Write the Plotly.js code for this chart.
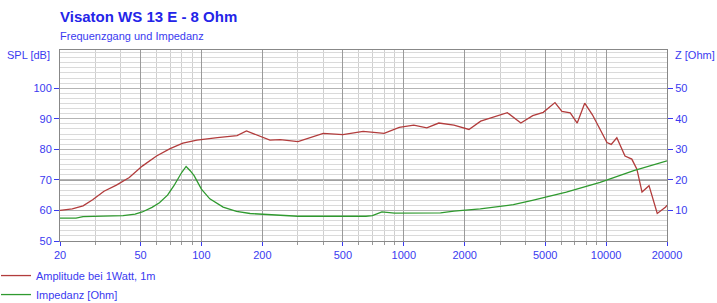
<!DOCTYPE html>
<html>
<head>
<meta charset="utf-8">
<script src="https://cdn.plot.ly/plotly-3.0.1.min.js"></script>
<style>html,body{margin:0;padding:0;background:#fff;}#chart{width:717px;height:303px;}</style>
</head>
<body>
<div id="chart"></div>
<script>
// ---- data ----
const splFreq = [20, 23, 26, 29, 33, 38, 44, 51, 60, 70, 81, 95, 120, 150, 167, 195, 218, 245, 300, 400, 500, 630, 800, 950, 1120, 1300, 1490, 1770, 2100, 2400, 2900, 3250, 3790, 4340, 4890, 5590, 6050, 6650, 7200, 7840, 8560, 9340, 10100, 10600, 11300, 12400, 13400, 14200, 15050, 16300, 17900, 19700, 20000];
const splDb   = [60, 60.5, 61.5, 63.5, 66.3, 68.3, 70.8, 74.5, 77.8, 80.2, 82, 83, 83.8, 84.5, 86, 84.3, 83, 83.2, 82.5, 85.2, 84.8, 85.9, 85.2, 87.2, 87.9, 87, 88.6, 87.9, 86.5, 89.2, 90.8, 92, 88.6, 91, 92.1, 95.3, 92.4, 91.9, 88.6, 95.1, 91.3, 86.5, 82.2, 81.6, 83.8, 77.8, 76.8, 73.5, 66, 68.1, 59, 61.1, 61.7];

const impFreq = [20, 24, 26, 41, 47, 51, 57, 62, 68, 73, 80, 84, 88, 92, 100, 110, 128, 149, 174, 254, 300, 650, 700, 780, 900, 1520, 1770, 2390, 3480, 4320, 6360, 9340, 13700, 20000];
const impOhm  = [7.5, 7.5, 8.0, 8.3, 8.8, 9.5, 11, 12.5, 15, 18, 22.5, 24.4, 23, 21.4, 17, 13.8, 11.1, 9.7, 9, 8.4, 8.1, 8.1, 8.3, 9.5, 9.1, 9.2, 9.8, 10.5, 11.9, 13.3, 16, 19.2, 23, 26.2];

const xTickVals = [20, 50, 100, 200, 500, 1000, 2000, 5000, 10000, 20000];
const xTickText = ['20', '50', '100', '200', '500', '1000', '2000', '5000', '10000', '20000'];
const xMinorVals = [30, 40, 60, 70, 80, 90, 300, 400, 600, 700, 800, 900, 3000, 4000, 6000, 7000, 8000, 9000];
const decadeLines = [100, 1000, 10000];
const splTicks = [50, 60, 70, 80, 90, 100];
const zTicks = [10, 20, 30, 40, 50];
const refLevel = 70;

const seriesNames = ['Amplitude bei 1Watt, 1m', 'Impedanz [Ohm]'];
const titleText = 'Visaton WS 13 E - 8 Ohm';
const subtitleText = 'Frequenzgang und Impedanz';

// ---- styles ----
const BLUE = '#3a3af0';
const FONT = 'Liberation Sans, Arial, sans-serif';

const traces = [
  {x: splFreq, y: splDb, name: seriesNames[0], type: 'scatter', mode: 'lines',
   line: {color: '#b23c3c', width: 1.3}, xaxis: 'x', yaxis: 'y'},
  {x: impFreq, y: impOhm, name: seriesNames[1], type: 'scatter', mode: 'lines',
   line: {color: '#2f9a2f', width: 1.3}, xaxis: 'x', yaxis: 'y2'}
];

const shapes = decadeLines.map(f => ({
  type: 'line', xref: 'x', yref: 'paper', x0: Math.log10(f), x1: Math.log10(f), y0: 0, y1: 1,
  line: {color: '#555', width: 1.2}, layer: 'below'
}));
shapes.push({type: 'line', xref: 'paper', yref: 'y', x0: 0, x1: 1, y0: refLevel, y1: refLevel,
  line: {color: '#444', width: 1.2}, layer: 'below'});

const layout = {
  width: 717, height: 303,
  margin: {l: 60, r: 50, t: 50, b: 62, autoexpand: false},
  paper_bgcolor: '#fff', plot_bgcolor: '#fff',
  font: {family: FONT, size: 11, color: BLUE},
  showlegend: true,
  legend: {x: -64/607, xanchor: 'left', y: -0.105, yanchor: 'top', orientation: 'v',
           font: {family: FONT, size: 11, color: BLUE}, bgcolor: 'rgba(0,0,0,0)', tracegroupgap: 0},
  title: {text: '<b>' + titleText + '</b>', x: 60/717, xanchor: 'left', xref: 'container',
          y: 1 - 17/303, yanchor: 'middle', yref: 'container',
          font: {family: FONT, size: 15, color: '#2424e8'}},
  xaxis: {type: 'log', range: [Math.log10(20), Math.log10(20000)],
          tickmode: 'array', tickvals: xTickVals, ticktext: xTickText,
          ticks: 'outside', ticklen: 4, tickcolor: BLUE, tickwidth: 1,
          showgrid: true, gridcolor: '#9a9a9a', gridwidth: 1,
          minor: {tickmode: 'array', tickvals: xMinorVals, showgrid: true, gridcolor: '#cfcfcf',
                  ticks: 'outside', ticklen: 3, tickcolor: '#999'},
          showline: true, linecolor: '#888', mirror: true, zeroline: false,
          tickfont: {family: FONT, size: 11, color: BLUE}},
  yaxis: {range: [50, 112.5], tickmode: 'array', tickvals: splTicks,
          ticks: 'outside', ticklen: 5, tickcolor: BLUE, tickwidth: 1,
          showgrid: true, gridcolor: '#b4b4b4',
          minor: {tick0: 50, dtick: 10/6, showgrid: true, gridcolor: '#dadada', ticks: ''},
          showline: true, linecolor: '#888', mirror: true, zeroline: false,
          tickfont: {family: FONT, size: 11, color: BLUE}},
  yaxis2: {range: [0, 62.5], overlaying: 'y', side: 'right', tickmode: 'array', tickvals: zTicks,
           ticks: 'outside', ticklen: 5, tickcolor: BLUE, tickwidth: 1,
           showgrid: false, showline: true, linecolor: '#888', zeroline: false,
           tickfont: {family: FONT, size: 11, color: BLUE}},
  shapes: shapes,
  annotations: [
    {text: subtitleText, xref: 'paper', yref: 'paper', x: -2/607, y: (241-36)/191, xanchor: 'left', yanchor: 'middle',
     showarrow: false, font: {family: FONT, size: 11, color: BLUE}},
    {text: 'SPL [dB]', xref: 'paper', yref: 'paper', x: -55/607, y: (241-55)/191, xanchor: 'left', yanchor: 'middle',
     showarrow: false, font: {family: FONT, size: 11, color: BLUE}},
    {text: 'Z [Ohm]', xref: 'paper', yref: 'paper', x: 1 + 6/607, y: (241-55)/191, xanchor: 'left', yanchor: 'middle',
     showarrow: false, font: {family: FONT, size: 11, color: BLUE}}
  ]
};

Plotly.newPlot('chart', traces, layout, {staticPlot: true, displayModeBar: false});
</script>
</body>
</html>
